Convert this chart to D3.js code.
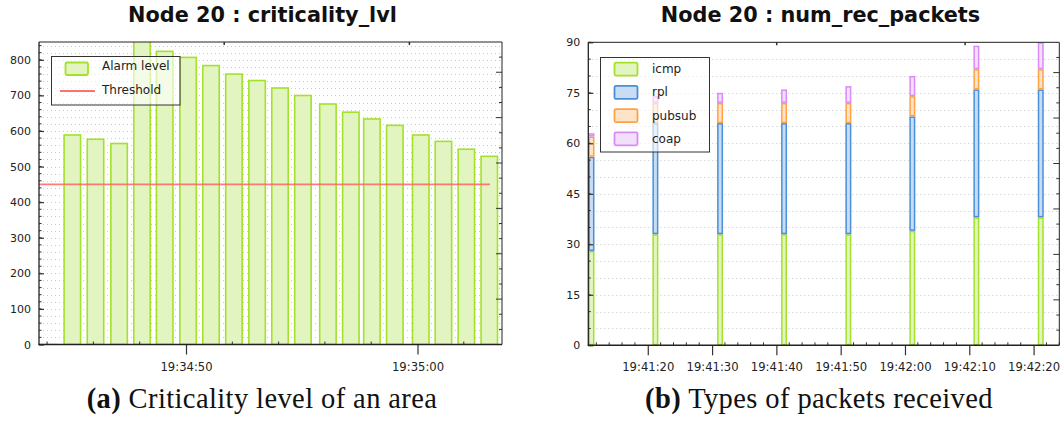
<!DOCTYPE html>
<html>
<head>
<meta charset="utf-8">
<script src="https://cdn.jsdelivr.net/npm/d3@7"></script>
<style>
  body { margin: 0; background: #fff; }
  svg { display: block; }
</style>
</head>
<body>
<svg id="fig" width="1061" height="422"></svg>
<script>
// ---- Panel (a): criticality level ----
const alarmTimes = [
  "19:34:43.670", "19:34:44.700", "19:34:45.700", "19:34:46.720", "19:34:47.710",
  "19:34:48.690", "19:34:49.700", "19:34:50.690", "19:34:51.680", "19:34:52.680",
  "19:34:53.670", "19:34:54.660", "19:34:55.740", "19:34:56.730", "19:34:57.640",
  "19:34:58.630", "19:34:59.750", "19:35:00.730", "19:35:01.720", "19:35:02.710"
];
const alarmLevels = [2, 591, 579, 567, 880, 826, 809, 786, 762, 744,
                     723, 702, 678, 655, 636, 618, 591, 573, 551, 531];
const thresholdLevel = 450;
const alarmDomain = ["19:34:43.650", "19:35:03.650"];
const alarmYTicks = [0, 100, 200, 300, 400, 500, 600, 700, 800];

// ---- Panel (b): received packets by type ----
const packetTimes = [
  "19:41:10.780", "19:41:20.720", "19:41:30.780", "19:41:40.730",
  "19:41:50.730", "19:42:00.680", "19:42:10.640", "19:42:20.650"
];
const packetTypes = ["icmp", "rpl", "pubsub", "coap"];
const icmpCounts   = [28, 33, 33, 33, 33, 34, 38, 38];
const rplCounts    = [28, 33, 33, 33, 33, 34, 38, 38];
const pubsubCounts = [6, 6, 6, 6, 6, 6, 6, 6];
const coapCounts   = [1, 2, 3, 4, 5, 6, 7, 8];
const packetDomain = ["19:41:10.750", "19:42:24.000"];
const packetYTicks = [0, 15, 30, 45, 60, 75, 90];

const parseT = d3.timeParse("%H:%M:%S.%L");
const fmtT = d3.timeFormat("%H:%M:%S");
const svg = d3.select("#fig");

const palette = {
  icmp:   { stroke: "#a4e02c", fill: "#e2f5c0" },
  rpl:    { stroke: "#4a8fd8", fill: "#c8ddf3" },
  pubsub: { stroke: "#ffa244", fill: "#ffe3c8" },
  coap:   { stroke: "#d98cf5", fill: "#f3defc" }
};

// Clip region and dotted horizontal grid at each minor step
function frame(g, x, y, minorStep, clipId) {
  const [x0, x1] = x.range();
  const [y0, y1] = y.range(); // y0 bottom, y1 top

  g.append("clipPath").attr("id", clipId)
    .append("rect").attr("x", x0).attr("y", y1).attr("width", x1 - x0).attr("height", y0 - y1);

  const minor = d3.range(0, y.domain()[1] + 1e-9, minorStep);
  g.append("g").selectAll("line").data(minor.filter(v => v > 0)).join("line")
    .attr("x1", x0).attr("x2", x1)
    .attr("y1", d => Math.round(y(d)) + 0.5).attr("y2", d => Math.round(y(d)) + 0.5)
    .attr("stroke", "#c8c8c8").attr("stroke-width", 1).attr("stroke-dasharray", "1,3");
  return minor;
}

function axes(g, x, y, minor, majorTicks, minorTimeStep) {
  const [x0, x1] = x.range();
  const [y0, y1] = y.range();

  // bottom axis: major ticks outward with labels, minor ticks inward
  const bottom = g.append("g").attr("transform", `translate(0,${y0})`)
    .call(d3.axisBottom(x).ticks(d3.timeSecond.every(10)).tickFormat(fmtT).tickSize(10).tickSizeOuter(0));
  bottom.select(".domain").remove();
  bottom.selectAll(".tick line").attr("stroke", "#333").attr("stroke-width", 1.2);
  bottom.selectAll(".tick text").attr("y", 26).attr("dy", null)
    .attr("font-family", "DejaVu Sans").attr("font-size", 11.6).attr("fill", "#222");
  g.append("g").selectAll("line")
    .data(x.ticks(d3.timeSecond.every(minorTimeStep)).filter(t => t.getSeconds() % 10 !== 0))
    .join("line")
    .attr("x1", d => x(d)).attr("x2", d => x(d)).attr("y1", y0).attr("y2", y0 - 3)
    .attr("stroke", "#333").attr("stroke-width", 1);

  // left axis: major ticks inward with labels, minor ticks inward shorter
  const left = g.append("g").attr("transform", `translate(${x0},0)`)
    .call(d3.axisLeft(y).tickValues(majorTicks).tickSize(-5).tickPadding(8).tickSizeOuter(0));
  left.select(".domain").remove();
  left.selectAll(".tick line").attr("stroke", "#333").attr("stroke-width", 1.2);
  left.selectAll(".tick text").attr("font-family", "DejaVu Sans").attr("font-size", 11).attr("fill", "#222");
  g.append("g").selectAll("line").data(minor).join("line")
    .attr("x1", x0).attr("x2", x0 + 2.5).attr("y1", d => y(d)).attr("y2", d => y(d))
    .attr("stroke", "#333").attr("stroke-width", 1);

  // secondary (unlabelled) top and right axes
  const fx = d3.scaleLinear().domain([0, 1]).range([x0, x1]);
  const fy = d3.scaleLinear().domain([0, 1]).range([y0, y1]);
  g.append("g").selectAll("line").data([0.4, 0.8]).join("line")
    .attr("x1", d => fx(d)).attr("x2", d => fx(d)).attr("y1", y1).attr("y2", y1 + 3)
    .attr("stroke", "#333").attr("stroke-width", 1.5);
  g.append("g").selectAll("line").data(d3.range(1, 20).map(i => i * 0.05)).join("line")
    .attr("x1", x1).attr("x2", (d, i) => x1 - ((i + 1) % 3 === 0 ? 6 : 3))
    .attr("y1", d => fy(d)).attr("y2", d => fy(d))
    .attr("stroke", "#333").attr("stroke-width", 1);

  // frame lines
  g.append("line").attr("x1", x0).attr("x2", x1).attr("y1", y1).attr("y2", y1).attr("stroke", "#222").attr("stroke-width", 1);
  g.append("line").attr("x1", x1).attr("x2", x1).attr("y1", y1).attr("y2", y0).attr("stroke", "#222").attr("stroke-width", 1);
  g.append("line").attr("x1", x0).attr("x2", x0).attr("y1", y1).attr("y2", y0 + 0.5).attr("stroke", "#222").attr("stroke-width", 1.3);
  g.append("line").attr("x1", x0 - 0.5).attr("x2", x1).attr("y1", y0).attr("y2", y0).attr("stroke", "#222").attr("stroke-width", 1.5);
}

function title(text, cx) {
  svg.append("text").attr("x", cx).attr("y", 22).attr("text-anchor", "middle")
    .attr("font-family", "DejaVu Sans").attr("font-weight", "bold").attr("font-size", 20.8)
    .attr("fill", "#111").text(text);
}

function caption(tag, text, cx) {
  const t = svg.append("text").attr("x", cx).attr("y", 408).attr("text-anchor", "middle")
    .attr("font-family", "Liberation Serif").attr("font-size", 28.5).attr("letter-spacing", 0.4)
    .attr("fill", "#111");
  t.append("tspan").attr("font-weight", "bold").text(tag);
  t.append("tspan").text(" " + text);
}

// ================= Panel (a) =================
{
  const g = svg.append("g");
  const x = d3.scaleTime().domain(alarmDomain.map(parseT)).range([39, 502]);
  const y = d3.scaleLinear().domain([0, 850]).range([344.5, 42]);
  const span = 780; // bar duration in ms
  const minor = frame(g, x, y, 20, "clipA");

  const rows = alarmTimes.map((t, i) => ({ t: parseT(t), v: alarmLevels[i] }));
  g.append("g").attr("clip-path", "url(#clipA)").selectAll("rect").data(rows).join("rect")
    .attr("x", d => x(d.t) + 0.8)
    .attr("width", d => x(new Date(+d.t + span)) - x(d.t) - 1.6)
    .attr("y", d => y(d.v) + 0.8)
    .attr("height", d => Math.max(0.5, y(0) - y(d.v) - 0.8))
    .attr("fill", palette.icmp.fill).attr("stroke", palette.icmp.stroke).attr("stroke-width", 1.6);

  g.append("line")
    .attr("x1", x.range()[0]).attr("x2", 490)
    .attr("y1", y(thresholdLevel)).attr("y2", y(thresholdLevel))
    .attr("stroke", "#ff6464").attr("stroke-opacity", 0.85).attr("stroke-width", 1.6);

  // legend
  const lg = g.append("g");
  lg.append("rect").attr("x", 51.5).attr("y", 56.5).attr("width", 128.5).attr("height", 48.5)
    .attr("fill", "#fff").attr("fill-opacity", 0.62).attr("stroke", "#333").attr("stroke-width", 1);
  lg.append("rect").attr("x", 65.5).attr("y", 62.5).attr("width", 22.5).attr("height", 12.5).attr("rx", 1.5)
    .attr("fill", palette.icmp.fill).attr("stroke", palette.icmp.stroke).attr("stroke-width", 1.8);
  lg.append("line").attr("x1", 60).attr("x2", 95).attr("y1", 91).attr("y2", 91)
    .attr("stroke", "#ff7070").attr("stroke-width", 1.8);
  lg.append("text").attr("x", 102).attr("y", 69.5).attr("font-family", "DejaVu Sans").attr("font-size", 12)
    .attr("fill", "#222").text("Alarm level");
  lg.append("text").attr("x", 102).attr("y", 93.5).attr("font-family", "DejaVu Sans").attr("font-size", 12)
    .attr("fill", "#222").text("Threshold");

  axes(g, x, y, minor, alarmYTicks, 2);
  title("Node 20 : criticality_lvl", 262.5);
  caption("(a)", "Criticality level of an area", 262);
}

// ================= Panel (b) =================
{
  const g = svg.append("g");
  const x = d3.scaleTime().domain(packetDomain.map(parseT)).range([588.3, 1059.3]);
  const y = d3.scaleLinear().domain([0, 90]).range([345.3, 42.3]);
  const span = 930; // bar duration in ms
  const minor = frame(g, x, y, 5, "clipB");

  const table = packetTimes.map((t, i) => ({
    t: parseT(t), icmp: icmpCounts[i], rpl: rplCounts[i], pubsub: pubsubCounts[i], coap: coapCounts[i]
  }));
  const stack = d3.stack().keys(packetTypes)(table);

  const bars = g.append("g").attr("clip-path", "url(#clipB)");
  stack.forEach(layer => {
    const c = palette[layer.key];
    bars.append("g").selectAll("rect").data(layer).join("rect")
      .attr("x", d => x(d.data.t) + 0.75)
      .attr("width", d => x(new Date(+d.data.t + span)) - x(d.data.t) - 1.5)
      .attr("y", d => y(d[1]) + 0.75)
      .attr("height", d => Math.max(0.5, y(d[0]) - y(d[1]) - 1.5))
      .attr("fill", c.fill).attr("stroke", c.stroke).attr("stroke-width", 1.5);
  });

  // legend
  const lg = g.append("g");
  lg.append("rect").attr("x", 600.5).attr("y", 57.5).attr("width", 109).attr("height", 94.5)
    .attr("fill", "#fff").attr("fill-opacity", 0.62).attr("stroke", "#333").attr("stroke-width", 1);
  packetTypes.forEach((k, i) => {
    const cy = 69.2 + i * 23.2;
    lg.append("rect").attr("x", 614.5).attr("y", cy - 6.5).attr("width", 23).attr("height", 13).attr("rx", 1.5)
      .attr("fill", palette[k].fill).attr("stroke", palette[k].stroke).attr("stroke-width", 1.8);
    lg.append("text").attr("x", 652).attr("y", cy).attr("dy", "0.33em")
      .attr("font-family", "DejaVu Sans").attr("font-size", 12).attr("fill", "#222").text(k);
  });

  axes(g, x, y, minor, packetYTicks, 2);
  title("Node 20 : num_rec_packets", 820.5);
  caption("(b)", "Types of packets received", 819);
}
</script>
</body>
</html>
